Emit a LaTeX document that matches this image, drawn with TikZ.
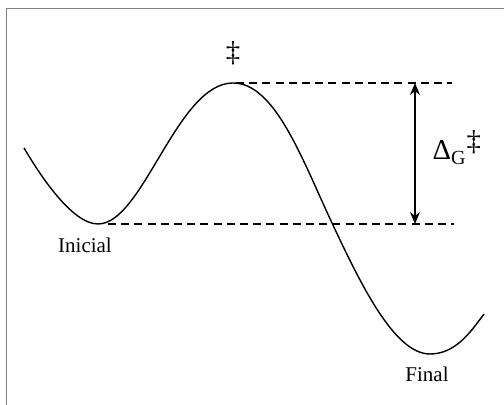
\documentclass[tikz,border=0pt]{standalone}
\usepackage{fontspec}
\setmainfont{Liberation Serif}
\usetikzlibrary{arrows.meta}

\begin{document}
\begin{tikzpicture}[x=.5pt,y=.5pt,line width=.7pt,font=\fontsize{10.5}{12}\selectfont]
    \useasboundingbox (0,0) rectangle (504,405);
    \draw[black!50,line width=.8pt] (6.5,0) -- (6.5,396.5) -- (504,396.5);
    % energy profile
    \coordinate (s) at (24,257);
    \coordinate (ini) at (98,181);
    \coordinate (top) at (233,322);
    \coordinate (cr) at (332,182);
    \coordinate (fin) at (430,51);
    \coordinate (e) at (484,91);
    \draw (s) .. controls (40,230) and (72,181) .. (ini)
      .. controls (143,181) and (177,322) .. (top)
      .. controls (275,322) and (302,246) .. (cr)
      .. controls (362,118) and (395,51) .. (fin)
      .. controls (455,51) and (470,72) .. (e);
    \coordinate (la) at (236,322);
    \coordinate (ra) at (452,322);
    \coordinate (lb) at (108,181);
    \coordinate (rb) at (454,181);
    \draw[dash pattern=on 4pt off 2.6pt,line width=.55pt] (la) -- (ra);
    \draw[dash pattern=on 4pt off 2.6pt,line width=.55pt] (lb) -- (rb);
    \coordinate (aa) at (415,322);
    \coordinate (ab) at (415,181);
    \draw[{Stealth[length=6pt,width=5pt]}-{Stealth[length=6pt,width=5pt]},line width=.55pt] (aa) -- (ab);
    \node (ts) at (233,352) {\Large ‡};
    \node[anchor=base] (inicial) at (85,152) {Inicial};
    \node[anchor=base] (final) at (427,23) {Final};
    \node[anchor=base west,inner sep=0pt] (dg) at (432,245) {\Large Δ\textsubscript{G}\raisebox{4.5pt}{‡}};
\end{tikzpicture}
\end{document}
